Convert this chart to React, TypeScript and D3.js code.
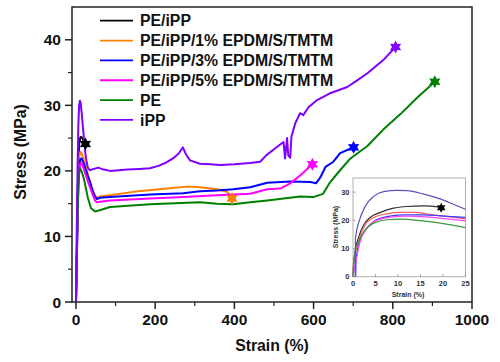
import * as d3 from "d3";

type Pt = [number, number];

// main chart: strain (%) vs stress (MPa)
const pePP: Pt[] = [[0, 0], [2, 7], [4, 15], [6, 21], [8, 24], [11, 25.1], [13, 25.2], [16, 25], [20, 24.5], [24, 24.1]];
const pePP1: Pt[] = [[0, 0], [2, 7], [4, 15], [6, 19.5], [8, 22], [11, 22.9], [14, 22.7], [18, 22], [24, 20.8], [30, 19.5], [36, 18.3], [42, 17.1], [48, 16.2], [53, 15.9], [60, 16.1], [86, 16.3], [145, 16.8], [230, 17.3], [280, 17.6], [313, 17.5], [356, 17.2], [382, 16.8], [394, 15.8]];
const pePP3: Pt[] = [[0, 0], [2, 6], [4, 13], [6, 18], [8, 20.5], [11, 21.8], [14, 21.9], [18, 21.4], [24, 20.3], [30, 19.2], [36, 18.2], [42, 17], [48, 16.1], [53, 15.7], [60, 15.9], [86, 16], [187, 16.4], [271, 16.6], [313, 16.9], [356, 17], [397, 17.2], [440, 17.5], [483, 18.2], [541, 18.4], [592, 18.3], [606, 18.1], [617, 19], [630, 20.6], [650, 21.4], [667, 22.7], [701, 23.6]];
const pePP5: Pt[] = [[0, 0], [2, 6], [4, 12.5], [6, 17.5], [8, 20], [11, 21.1], [14, 21.2], [18, 20.6], [24, 19.5], [30, 18.4], [36, 17.4], [42, 16.4], [48, 15.5], [53, 15.2], [60, 15.3], [86, 15.5], [187, 15.8], [271, 16], [356, 16.3], [440, 16.5], [483, 17.2], [516, 17.3], [541, 18.1], [566, 19.3], [597, 21]];
const pe: Pt[] = [[0, 0], [2, 6], [4, 13], [6, 17.5], [8, 19.6], [10, 20.4], [13, 20.1], [16, 19.6], [20, 18.8], [25, 17.4], [30, 15.9], [38, 14.3], [48, 13.8], [60, 14], [86, 14.5], [187, 14.9], [313, 15.2], [356, 15], [397, 14.9], [440, 15.2], [483, 15.5], [566, 16.1], [599, 16], [624, 16.5], [642, 18.3], [667, 20.1], [693, 21.9], [736, 23.8], [776, 26.3], [820, 28.7], [862, 31.2], [906, 33.6]];
const ipp: Pt[] = [[0, 0], [2, 11], [4, 20], [6, 27], [8, 30], [10, 30.7], [12, 30.3], [15, 28.5], [20, 25], [25, 22], [30, 20.5], [35, 20.1], [45, 20.3], [56, 20.5], [70, 20.2], [86, 20], [130, 20.2], [160, 20.3], [187, 20.4], [210, 20.8], [225, 21.2], [245, 21.9], [260, 22.7], [270, 23.6], [278, 22.5], [288, 21.6], [313, 21.1], [340, 21], [364, 20.9], [400, 21], [440, 21.2], [465, 21.4], [481, 22.4], [500, 23.3], [524, 24.4], [528, 21.9], [533, 25], [536, 22.4], [541, 22], [544, 25.2], [554, 27.3], [566, 28.8], [574, 28.5], [587, 29.7], [609, 30.8], [640, 31.8], [685, 32.8], [710, 33.8], [736, 34.9], [776, 36.9], [807, 38.9]];

const names = ["PE/iPP", "PE/iPP/1% EPDM/S/TMTM", "PE/iPP/3% EPDM/S/TMTM", "PE/iPP/5% EPDM/S/TMTM", "PE", "iPP"];
const colors = ["#000000", "#ff8000", "#0000ff", "#ff00ff", "#008000", "#8000ff"];
const mainSeries = [pePP, pePP1, pePP3, pePP5, pe, ipp];
const yTicks = [0, 10, 20, 30, 40];
const xTicks = [0, 200, 400, 600, 800, 1000];

// inset: first 25 % strain
const inPePP: Pt[] = [[0, 0], [0.3, 7.1], [1.3, 14.2], [2.4, 18.4], [3.8, 21], [6.1, 22.8], [9, 24.3], [12, 24.9], [15.7, 25.1], [19.6, 24.6]];
const inPePP1: Pt[] = [[0, 0], [0.15, 5.3], [1.3, 13], [2.7, 18.4], [4.6, 21], [7.5, 22.3], [10.5, 22.8], [13.5, 22.8], [17.9, 21.9], [22.3, 21.1], [25, 20.5]];
const inPePP3: Pt[] = [[0.6, 0], [0.7, 6.5], [1.6, 13], [3.1, 17.2], [4.6, 19.6], [7.5, 21.3], [11.2, 21.9], [15.7, 21.9], [19.4, 21.6], [25, 21]];
const inPePP5: Pt[] = [[0, 0], [0.5, 4.2], [1.6, 12.5], [3.1, 17.2], [4.6, 19.6], [8.3, 21.1], [12, 21.5], [16.4, 21.2], [20.9, 20.5], [25, 19.8]];
const inPe: Pt[] = [[0, 0], [0.15, 5.3], [1.3, 12.5], [2.7, 16.6], [4.6, 19], [7.5, 20.2], [10.5, 20.4], [14.9, 19.9], [19.4, 19], [25, 17.4]];
const inIpp: Pt[] = [[0.5, 0], [0.55, 13.6], [1.6, 20.8], [2.7, 24.9], [4.6, 28.5], [6.8, 30.2], [9.8, 30.6], [12, 30.5], [15.7, 29.3], [19.4, 27.6], [22.3, 25.7], [25, 23.9]];
const inColors = ["#303030", "#ff5a5a", "#3a3aff", "#ff44ff", "#3c9a3c", "#5a50c0"];
const insetSeries = [inPePP, inPePP1, inPePP3, inPePP5, inPe, inIpp];
const inXTicks = [0, 5, 10, 15, 20, 25];
const inYTicks = [0, 10, 20, 30];

const font = "'Liberation Sans', Arial, sans-serif";

function starPath(cx: number, cy: number, r: number) {
  const pts: string[] = [];
  for (let i = 0; i < 12; i++) {
    const a = (i * Math.PI) / 6 - Math.PI / 2;
    const rr = i % 2 === 0 ? r : r * 0.55;
    pts.push(`${cx + Math.cos(a) * rr},${cy + Math.sin(a) * rr}`);
  }
  return `M${pts.join("L")}Z`;
}

export default function App() {
  const W = 500;
  const H = 362;
  const x = d3.scaleLinear().domain([-10, 1000]).range([72, 472]);
  const y = d3.scaleLinear().domain([0, 45]).range([302, 7]);
  const line = d3
    .line<Pt>()
    .x((d) => x(d[0]))
    .y((d) => y(d[1]));

  const ix = d3.scaleLinear().domain([0, 25]).range([353, 465.5]);
  const iy = d3.scaleLinear().domain([0, 35]).range([276.7, 178]);
  const inLine = d3
    .line<Pt>()
    .x((d) => ix(d[0]))
    .y((d) => iy(d[1]))
    .curve(d3.curveMonotoneX);

  const minorY = d3.range(5, 45, 10);
  const minorX = d3.range(100, 1000, 200);

  return (
    <svg width={W} height={H} style={{ position: "absolute", left: 0, top: 0, background: "#fff" }} fontFamily={font}>
      {/* main curves */}
      {mainSeries.map((s, i) => (
        <path key={names[i]} d={line(s) ?? ""} fill="none" stroke={colors[i]} strokeWidth={2} strokeLinejoin="round" />
      ))}
      {mainSeries.map((s, i) => {
        const last = s[s.length - 1];
        return <path key={`st${i}`} d={starPath(x(last[0]), y(last[1]), 6.5)} fill={colors[i]} />;
      })}

      {/* frame */}
      <rect x={72} y={7} width={400} height={295} fill="none" stroke="#222" strokeWidth={1.5} />
      {yTicks.map((t) => (
        <g key={`y${t}`}>
          <line x1={65} x2={72} y1={y(t)} y2={y(t)} stroke="#222" strokeWidth={1.5} />
          <text x={61} y={y(t)} dy="0.36em" textAnchor="end" fontSize={15.5} fontWeight="bold" fill="#111">
            {t}
          </text>
        </g>
      ))}
      {minorY.map((t) => (
        <line key={`my${t}`} x1={68} x2={72} y1={y(t)} y2={y(t)} stroke="#222" strokeWidth={1.2} />
      ))}
      {xTicks.map((t) => (
        <g key={`x${t}`}>
          <line x1={x(t)} x2={x(t)} y1={302} y2={309} stroke="#222" strokeWidth={1.5} />
          <text x={x(t)} y={325} textAnchor="middle" fontSize={15.5} fontWeight="bold" fill="#111">
            {t}
          </text>
        </g>
      ))}
      {minorX.map((t) => (
        <line key={`mx${t}`} x1={x(t)} x2={x(t)} y1={302} y2={306} stroke="#222" strokeWidth={1.2} />
      ))}
      <text x={272} y={351} textAnchor="middle" fontSize={15.8} fontWeight="bold" fill="#111">
        Strain (%)
      </text>
      <text transform="translate(26,152) rotate(-90)" textAnchor="middle" fontSize={15.8} fontWeight="bold" fill="#111">
        Stress (MPa)
      </text>

      {/* legend */}
      {names.map((n, i) => {
        const ly = 20.7 + i * 19.85;
        return (
          <g key={`lg${n}`}>
            <line x1={100} x2={133} y1={ly} y2={ly} stroke={colors[i]} strokeWidth={1.8} />
            <text x={140} y={ly} dy="0.36em" fontSize={15.8} fontWeight="bold" fill="#111">
              {n}
            </text>
          </g>
        );
      })}

      {/* inset */}
      <rect x={353} y={178} width={112.5} height={98.7} fill="#fff" stroke="#b0b0b0" strokeWidth={1} />
      {insetSeries.map((s, i) => (
        <path key={`in${i}`} d={inLine(s) ?? ""} fill="none" stroke={inColors[i]} strokeWidth={1.2} />
      ))}
      {(() => {
        const last = inPePP[inPePP.length - 1];
        return <path d={starPath(ix(last[0]), iy(last[1]) + 0.5, 5)} fill="#000" />;
      })()}
      {inYTicks.map((t) => (
        <g key={`iy${t}`}>
          <line x1={353} x2={355.5} y1={iy(t)} y2={iy(t)} stroke="#888" strokeWidth={0.8} />
          <text x={349.5} y={iy(t)} dy="0.36em" textAnchor="end" fontSize={7.5} fontWeight="bold" fill="#333">
            {t}
          </text>
        </g>
      ))}
      {inXTicks.map((t) => (
        <g key={`ix${t}`}>
          <line x1={ix(t)} x2={ix(t)} y1={276.7} y2={274.2} stroke="#888" strokeWidth={0.8} />
          <text x={ix(t)} y={286} textAnchor="middle" fontSize={7.5} fontWeight="bold" fill="#333">
            {t}
          </text>
        </g>
      ))}
      <text x={408} y={297} textAnchor="middle" fontSize={7} fontWeight="bold" fill="#333">
        Strain (%)
      </text>
      <text transform="translate(338,227) rotate(-90)" textAnchor="middle" fontSize={7} fontWeight="bold" fill="#333">
        Stress (MPa)
      </text>
    </svg>
  );
}
